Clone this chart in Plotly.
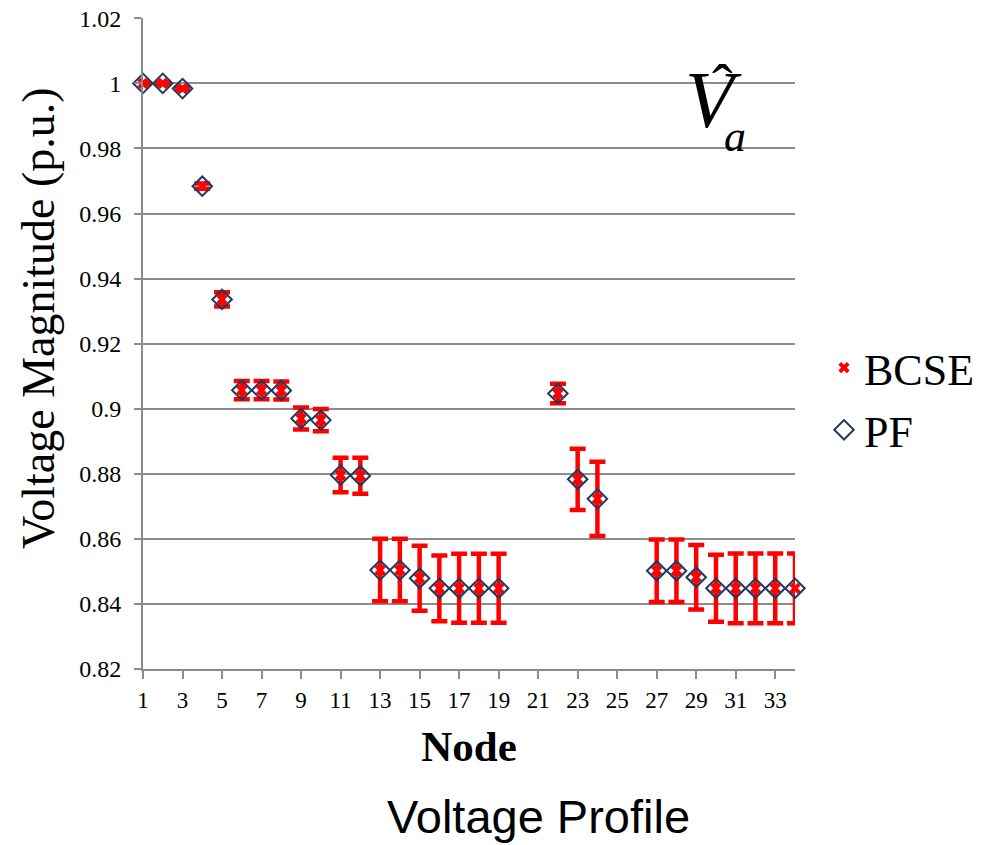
import plotly.graph_objects as go

nodes = [1, 2, 3, 4, 5, 6, 7, 8, 9, 10, 11, 12, 13, 14, 15, 16, 17, 18, 19,
         22, 23, 24, 27, 28, 29, 30, 31, 32, 33, 34]
pf = [1.0, 1.0, 0.9984, 0.9684, 0.9336, 0.9057, 0.9057, 0.9056, 0.8970, 0.8965,
      0.8796, 0.8794, 0.8504, 0.8504, 0.8479, 0.8448, 0.8448, 0.8448, 0.8448,
      0.9047, 0.8783, 0.8723, 0.8502, 0.8502, 0.8482, 0.8448, 0.8448, 0.8448, 0.8448, 0.8448]
bcse = [1.0, 1.0, 0.9984, 0.9684, 0.9336, 0.9057, 0.9057, 0.9056, 0.8970, 0.8965,
        0.8796, 0.8794, 0.8504, 0.8504, 0.8479, 0.8448, 0.8448, 0.8448, 0.8448,
        0.9047, 0.8783, 0.8723, 0.8502, 0.8502, 0.8482, 0.8448, 0.8448, 0.8448, 0.8448, 0.8448]
bcse_err = [0.0002, 0.0002, 0.0003, 0.0008, 0.0022, 0.0028, 0.0028, 0.0028, 0.0034, 0.0034,
            0.0053, 0.0055, 0.0096, 0.0096, 0.0100, 0.0101, 0.0106, 0.0106, 0.0106,
            0.0030, 0.0094, 0.0114, 0.0096, 0.0096, 0.0099, 0.0103, 0.0107, 0.0107, 0.0107, 0.0107]
y_ticks = [0.82, 0.84, 0.86, 0.88, 0.9, 0.92, 0.94, 0.96, 0.98, 1, 1.02]
y_ticktext = ["0.82", "0.84", "0.86", "0.88", "0.9", "0.92", "0.94", "0.96", "0.98", "1", "1.02"]
x_ticks = list(range(1, 34, 2))
y_range = [0.82, 1.0201]

serif = "Liberation Serif, Times New Roman, serif"
sans = "Liberation Sans, Arial, sans-serif"
grid = "#8c8c8c"

# desired plot-area edges in page pixels (body margin removed below)
L, R, T, B = 143, 795, 18, 669
W, H = 998, 845
pw, ph = R - L, B - T


def px(xp):
    return (xp - L) / pw


def py(yp):
    return (B - yp) / ph


fig = go.Figure()
fig.add_trace(go.Scatter(
    x=nodes, y=bcse, mode="markers", name="BCSE", legendgroup="a",
    marker=dict(symbol="x", color="#ff0000", size=10, line=dict(width=0)),
    error_y=dict(type="data", array=bcse_err, visible=True, color="#ff0000",
                 thickness=4.5, width=8),
    cliponaxis=False,
))
fig.add_trace(go.Scatter(
    x=nodes, y=pf, mode="markers", name="PF", legendgroup="b",
    marker=dict(symbol="diamond-open", color="#1f3a60", size=15, line=dict(width=2, color="#1f3a60")),
    cliponaxis=False,
))

fig.update_layout(
    width=W, height=H,
    margin=dict(l=L, r=W - R, t=T, b=H - B, autoexpand=False),
    paper_bgcolor="white", plot_bgcolor="white",
    font=dict(family=serif, color="black"),
    showlegend=True,
    legend=dict(x=px(824), y=py(399), xanchor="left", yanchor="middle",
                font=dict(family=serif, size=44, color="black"),
                tracegroupgap=2, bgcolor="rgba(0,0,0,0)"),
    xaxis=dict(range=[1, 34], tickmode="array", tickvals=x_ticks,
               ticktext=[str(t) for t in x_ticks],
               showgrid=False, zeroline=False, showline=True, linecolor=grid, linewidth=2,
               ticks="outside", ticklen=8, tickwidth=2, tickcolor=grid,
               tickfont=dict(family=serif, size=23, color="black"),
               ticklabelstandoff=1, automargin=False,
               title=dict(text="<b>Node</b>", font=dict(family=serif, size=43, color="black"), standoff=19)),
    yaxis=dict(range=y_range, tickmode="array", tickvals=y_ticks, ticktext=y_ticktext,
               showgrid=True, gridcolor=grid, gridwidth=2, zeroline=False,
               showline=True, linecolor=grid, linewidth=2,
               ticks="outside", ticklen=7, tickwidth=2, tickcolor=grid,
               tickfont=dict(family=serif, size=24, color="black"),
               ticklabelstandoff=8, ticklabeloverflow="allow", automargin=False),
)

# y-axis title (sits above the plot centre in the reference)
fig.add_annotation(x=px(38), y=py(318), xref="paper", yref="paper", text="Voltage Magnitude (p.u.)",
                   showarrow=False, textangle=-90,
                   font=dict(family=serif, size=46, color="black"), xanchor="center", yanchor="middle")

# V-hat sub a label
fig.add_annotation(x=px(713), y=py(100), xref="paper", yref="paper", text="<i>V</i>", showarrow=False,
                   font=dict(family=serif, size=80, color="black"), xanchor="center", yanchor="middle")
fig.add_annotation(x=px(722), y=py(86), xref="paper", yref="paper", text="ˆ", showarrow=False,
                   font=dict(family=serif, size=62, color="black"), xanchor="center", yanchor="middle")
fig.add_annotation(x=px(735), y=py(136), xref="paper", yref="paper", text="<i>a</i>", showarrow=False,
                   font=dict(family=serif, size=44, color="black"), xanchor="center", yanchor="middle")

fig.add_annotation(x=px(538), y=py(816), xref="paper", yref="paper", text="Voltage Profile", showarrow=False,
                   font=dict(family=sans, size=47, color="black"), xanchor="center", yanchor="middle")

fig.write_html("out.html", config={"displayModeBar": False},
               post_script="document.body.style.margin='0px';")
